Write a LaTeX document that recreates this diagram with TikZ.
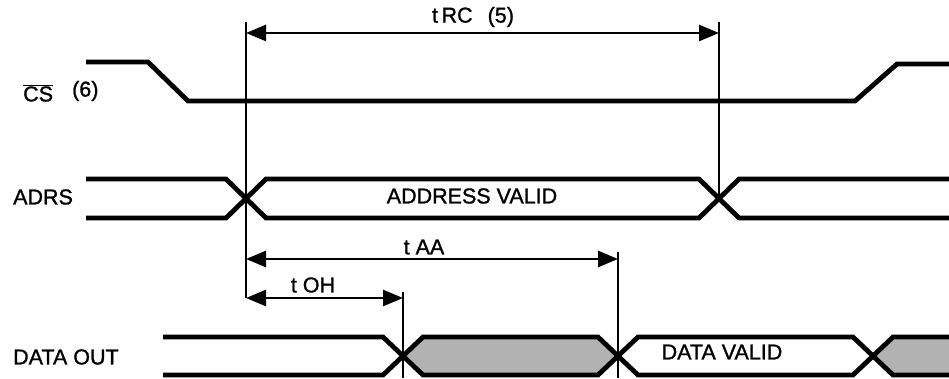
\documentclass[tikz,border=0pt]{standalone}
\usepackage{fontspec}
\setmainfont[FakeBold=1.2]{Liberation Sans}
\usetikzlibrary{arrows.meta}
\begin{document}
\begin{tikzpicture}[x=1pt,y=-1pt,
  sig/.style={line width=4.8pt, line join=miter},
  guide/.style={line width=2pt},
  dim/.style={line width=2.6pt, {Triangle[length=20pt,width=16pt]}-{Triangle[length=20pt,width=16pt]}},
  lbl/.style={inner sep=0pt, font=\fontsize{21.5}{24}\selectfont},
  shade/.style={fill=black!30, draw=none}]
\useasboundingbox (0,0) rectangle (949,378);
% shaded (invalid) data regions
\fill[shade] (403,356) -- (423,337) -- (598,337) -- (618,356) -- (598,375) -- (423,375) -- cycle;
\fill[shade] (873,356) -- (893,337) -- (949,337) -- (949,375) -- (893,375) -- cycle;
% CS signal
\draw[sig] (86,62) -- (148,62) -- (188,101) -- (855,101) -- (897,64) -- (949,64);
% ADRS bus
\draw[sig] (86,179) -- (226,179) -- (266,218) -- (699,218) -- (739,179) -- (949,179);
\draw[sig] (86,218) -- (226,218) -- (266,179) -- (699,179) -- (739,218) -- (949,218);
% DATA OUT bus
\draw[sig] (163,337) -- (383,337) -- (423,375) -- (598,375) -- (638,337) -- (853,337) -- (893,375) -- (949,375);
\draw[sig] (163,375) -- (383,375) -- (423,337) -- (598,337) -- (638,375) -- (853,375) -- (893,337) -- (949,337);
% reference coordinates
\coordinate (a0) at (246,22);
\coordinate (a1) at (246,298);
\coordinate (b0) at (719,22);
\coordinate (b1) at (719,198);
\coordinate (c0) at (618,252);
\coordinate (c1) at (618,378);
\coordinate (d0) at (403,292);
\coordinate (d1) at (403,378);
\coordinate (rcL) at (246,33);
\coordinate (rcR) at (719,33);
\coordinate (aaL) at (246,259);
\coordinate (aaR) at (618,259);
\coordinate (ohL) at (246,298);
\coordinate (ohR) at (403,298);
% guide lines
\draw[guide] (a0) -- (a1);
\draw[guide] (b0) -- (b1);
\draw[guide] (c0) -- (c1);
\draw[guide] (d0) -- (d1);
% dimension arrows
\draw[dim] (rcL) -- (rcR);
\draw[dim] (aaL) -- (aaR);
\draw[dim] (ohL) -- (ohR);
% labels
\node[lbl, anchor=west] (cs) at (23,93) {$\overline{\mbox{C}}\overline{\mbox{S}}$};
\node[lbl, anchor=west] (cs6) at (72,91) {(6)};
\node[lbl, anchor=west] (adrs) at (13,197) {ADRS};
\node[lbl, anchor=west] (dout) at (13,357) {DATA OUT};
\node[lbl] (trc) at (473,17) {t\,RC\hspace{0.7em}(5)};
\node[lbl] (taa) at (424,247) {t AA};
\node[lbl] (toh) at (313,285) {t OH};
\node[lbl] (av) at (472,196) {ADDRESS VALID};
\node[lbl] (dv) at (722,352) {DATA VALID};
\end{tikzpicture}
\end{document}
